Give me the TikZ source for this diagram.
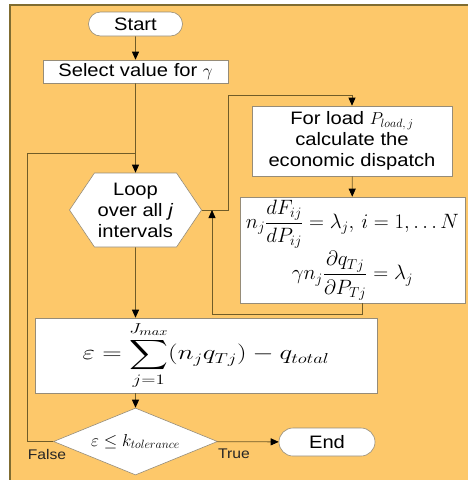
\documentclass[tikz,border=0pt]{standalone}
\usepackage{amsmath}
\usepackage{exscale}
\usepackage{graphicx}
\usepackage{fontspec}
\setmainfont{Liberation Sans}[FakeStretch=1.12]
\usetikzlibrary{arrows.meta,positioning,calc,shapes.geometric,shapes.misc,shapes.symbols}
\definecolor{paper}{RGB}{253,200,106}
\definecolor{frame}{RGB}{128,108,48}
\definecolor{wire}{RGB}{112,92,40}
\definecolor{edge}{RGB}{150,140,120}
\tikzset{
  box/.style={draw=edge,fill=white,line width=0.6pt,align=center,inner sep=2pt},
  term/.style={box,rounded rectangle,minimum width=#1,minimum height=24pt},
  term/.default=98pt,
  link/.style={line width=0.8pt,draw=wire},
  flow/.style={link,-{Triangle[length=8pt,width=7pt,color=black]}},
  lbl/.style={font=\fontsize{14}{16}\selectfont,text=black!85},
}
\begin{document}
\begin{tikzpicture}[x=1pt,y=-1pt,font=\fontsize{18}{21}\selectfont]
  \useasboundingbox (0,0) rectangle (467,480);
  \fill[paper] (10,5) rectangle (480,490);
  \draw[frame,line width=1.2pt] (10,490) -- (10,5) -- (480,5);
  % main column
  \node[term] (start) at (135.5,24) {Start};
  \node[box,minimum width=185pt,minimum height=23pt] (sel) at (135.5,71.5) {Select value for $\gamma$};
  \node[box,signal,signal to=west and east,signal pointer angle=112,minimum width=132pt,
    minimum height=74pt,inner sep=0pt] (loop) at (135.5,210) {Loop\\over all \textit{j}\\intervals};
  \node[box,minimum width=342pt,minimum height=75pt,font=\fontsize{21}{24}\selectfont] (eps) at (206,355.5)
    {\scalebox{1.3}[1]{$\displaystyle\varepsilon=\sum_{j=1}^{J_{max}}(n_jq_{Tj})-q_{total}$}};
  \node[box,diamond,aspect=2.45,minimum width=164pt,minimum height=67pt,inner sep=0pt] (tol) at (135.5,441.5)
    {$\varepsilon\le k_{tolerance}$};
  \node[term=100pt,minimum height=28pt] (fin) at (327,442) {End};
  \node[lbl] (no) at (47,454) {False};
  \node[lbl] (yes) at (234,454) {True};
  % right column
  \node[box,minimum width=200pt,minimum height=70pt] (load) at (352,141)
    {For load $P_{load,\,j}$\\calculate the\\economic dispatch};
  \node[box,minimum width=225pt,minimum height=106pt,font=\fontsize{20}{22}\selectfont] (eqs) at (352.5,250)
    {$\displaystyle n_j\frac{dF_{ij}}{dP_{ij}}=\lambda_j,\,i=1,\ldots N$\\[2pt]
     $\displaystyle\gamma n_j\frac{\partial q_{Tj}}{\partial P_{Tj}}=\lambda_j$};
  % connectors
  \coordinate (fbl) at (27,153);
  \coordinate (up) at (228,95);
  \coordinate (back) at (212,314);
  \draw[flow] (start) -- (sel);
  \draw[flow] (sel) -- (loop);
  \draw[flow] (loop) -- (loop.south |- eps.north);
  \draw[flow] (tol.north |- eps.south) -- (tol);
  \draw[flow] (tol) -- (fin);
  \draw[link] (tol.west) -| (fbl) -- (fbl -| sel.south);
  \draw[flow] (loop.east) -| (up) -| (load.north);
  \draw[flow] (load) -- (eqs);
  \draw[flow] ($(eqs.south)+(10,0)$) |- (back) -- (back |- loop.east);
\end{tikzpicture}
\end{document}
